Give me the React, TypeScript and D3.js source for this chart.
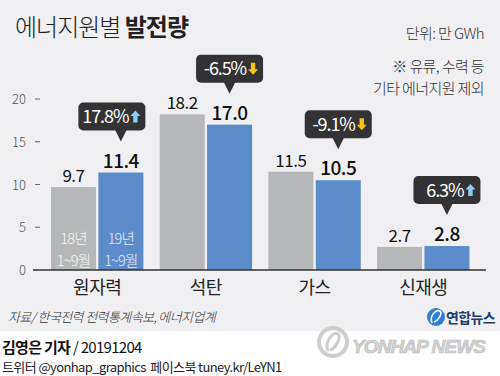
import React from 'react';
import * as d3 from 'd3';

const categories = ['원자력', '석탄', '가스', '신재생'];
const series = ['18년', '19년'];
const values2018 = [9.7, 18.2, 11.5, 2.7];
const values2019 = [11.4, 17.0, 10.5, 2.8];
const changes = [17.8, -6.5, -9.1, 6.3];
const yTicks = [0, 5, 10, 15, 20];
const seriesLabelLines = [['18년', '1~9월'], ['19년', '1~9월']];

const FONT = '"Noto Sans CJK KR", "Noto Sans", sans-serif';
const GRAY = '#b6b7b9';
const BLUE = '#5b8bc8';
const BOX = '#333335';

function Arrow({ x, y, up, color }: { x: number; y: number; up: boolean; color: string }) {
  const w = 10, h = 12, hh = 5.5;
  const pts = up
    ? [[0, hh], [w / 2, 0], [w, hh], [w * 0.72, hh], [w * 0.72, h], [w * 0.28, h], [w * 0.28, hh]]
    : [[0, h - hh], [w / 2, h], [w, h - hh], [w * 0.72, h - hh], [w * 0.72, 0], [w * 0.28, 0], [w * 0.28, h - hh]];
  return <polygon points={pts.map(p => `${x + p[0]},${y + p[1]}`).join(' ')} fill={color} />;
}

export default function App() {
  const W = 500, H = 376;
  const x = d3.scaleBand<string>().domain(categories).range([42.85, 477.6]).paddingInner(0.15).paddingOuter(0.075);
  const xs = d3.scaleBand<string>().domain(series).range([0, x.bandwidth()]).paddingInner(0.05);
  const y = d3.scaleLinear().domain([0, 20]).range([270, 99]);
  const data = [values2018, values2019];

  return (
    <svg width={W} height={H} style={{ position: 'absolute', left: 0, top: 0, fontFamily: FONT }}>
      <rect x={0} y={0} width={W} height={331} fill="#f0f0f2" />
      <rect x={0} y={331} width={W} height={H - 331} fill="#ffffff" />

      {/* title */}
      <text x={15} y={36} fontSize={24} fill="#222" letterSpacing={-1}>
        <tspan fontWeight={300}>에너지원별 </tspan>
        <tspan fontWeight={700}>발전량</tspan>
      </text>
      <text x={484} y={39} fontSize={15} fill="#333" textAnchor="end" letterSpacing={-0.6} fontWeight={300}>단위: 만 GWh</text>
      <text x={484} y={72} fontSize={15} fill="#333" textAnchor="end" letterSpacing={-0.6} fontWeight={300}>※ 유류, 수력 등</text>
      <text x={484} y={94} fontSize={15} fill="#333" textAnchor="end" letterSpacing={-0.6} fontWeight={300}>기타 에너지원 제외</text>

      {/* y axis ticks */}
      {yTicks.map(t => (
        <g key={t}>
          <text x={26} y={y(t) + 5} fontSize={13} fill="#555" textAnchor="end" fontWeight={300}>{t}</text>
          {t > 0 && <line x1={35} x2={40} y1={y(t)} y2={y(t)} stroke="#666" strokeWidth={1} />}
        </g>
      ))}

      {/* bars */}
      {categories.map((c, i) => (
        <g key={c} transform={`translate(${x(c)},0)`}>
          {series.map((s, j) => {
            const v = data[j][i];
            const bx = xs(s)!;
            const bw = xs.bandwidth();
            return (
              <g key={s}>
                <rect x={bx} y={y(v)} width={bw} height={y(0) - y(v)} fill={j === 0 ? GRAY : BLUE} />
                <text x={bx + bw / 2} y={y(v) - 5} textAnchor="middle" fontSize={j === 0 ? 17 : 19}
                  fontWeight={j === 0 ? 400 : 500} fill="#111" letterSpacing={-0.5}>{v.toFixed(1)}</text>
                {i === 0 && seriesLabelLines[j].map((ln, k) => (
                  <text key={k} x={bx + bw / 2} y={244 + k * 21.5} textAnchor="middle" fontSize={14.5} fontWeight={300}
                    fill={j === 0 ? '#f7f7f7' : '#e6eefa'} letterSpacing={-0.8}>{ln}</text>
                ))}
              </g>
            );
          })}
        </g>
      ))}

      {/* baseline */}
      <line x1={33} x2={486} y1={y(0)} y2={y(0)} stroke="#333" strokeWidth={1.5} />

      {/* category labels */}
      {categories.map(c => (
        <text key={c} x={x(c)! + x.bandwidth() / 2} y={294} textAnchor="middle" fontSize={18} fill="#222" letterSpacing={-0.5}>{c}</text>
      ))}

      {/* callouts */}
      {categories.map((c, i) => {
        const cx = x(c)! + xs(series[1])! + xs.bandwidth() / 2;
        const tip = y(values2019[i]) - 31;
        const boxB = tip - 11;
        const boxT = boxB - 28;
        const bw = 67;
        const bl = cx - bw / 2 + (i === 0 ? -9 : 0);
        const up = changes[i] > 0;
        const txt = (up ? '' : '-') + Math.abs(changes[i]).toFixed(1) + '%';
        return (
          <g key={c}>
            <rect x={bl} y={boxT} width={bw} height={boxB - boxT} rx={5} fill={BOX} />
            <polygon points={`${cx - 6},${boxB - 1} ${cx + 6},${boxB - 1} ${cx},${tip}`} fill={BOX} />
            <text x={bl + bw - 17} y={boxT + 20.5} textAnchor="end" fontSize={18} fill="#fff" letterSpacing={-1.1}>{txt}</text>
            <Arrow x={bl + bw - 15} y={boxT + 8} up={up} color={up ? '#8fcdf0' : '#f6c416'} />
          </g>
        );
      })}

      {/* source */}
      <text x={8} y={322} fontSize={13} fill="#333" fontStyle="italic" letterSpacing={-0.6} fontWeight={300}>자료/ 한국전력 전력통계속보, 에너지업계</text>

      {/* Yonhap logo */}
      <g>
        <circle cx={436} cy={317} r={9} fill="#2c7fd4" />
        <path d="M432,323 C429,316 436,309 440,311 C443,313 438,321 434,322" fill="none" stroke="#fff" strokeWidth={1.6} />
        <text x={446} y={323} fontSize={14} fontWeight={700} fill="#1d3d73" letterSpacing={-0.6}>연합뉴스</text>
      </g>

      {/* footer */}
      <text x={2} y={353} fontSize={15} fill="#111" letterSpacing={-0.7}>
        <tspan fontWeight={700}>김영은 기자</tspan>
        <tspan fontWeight={400}> / 20191204</tspan>
      </text>
      <text x={2} y={372} fontSize={13} fill="#222" letterSpacing={-0.6}>{'트위터 @yonhap_graphics\u00a0\u00a0페이스북 tuney.kr/LeYN1'}</text>

      {/* watermark */}
      <g opacity={0.9}>
        <circle cx={333} cy={342} r={14} fill="none" stroke="#c9c9c9" strokeWidth={4} />
        <path d="M328,351 C324,342 333,331 338,334 C342,337 335,349 330,350" fill="none" stroke="#c9c9c9" strokeWidth={3} />
        <text x={352} y={353} fontSize={19} fontWeight={700} fontStyle="italic" fill="#d0d0d0" stroke="#b0b0b0" strokeWidth={0.6}
          letterSpacing={-0.9} fontFamily='"Liberation Sans", Arial, sans-serif'>YONHAP NEWS</text>
      </g>
    </svg>
  );
}
